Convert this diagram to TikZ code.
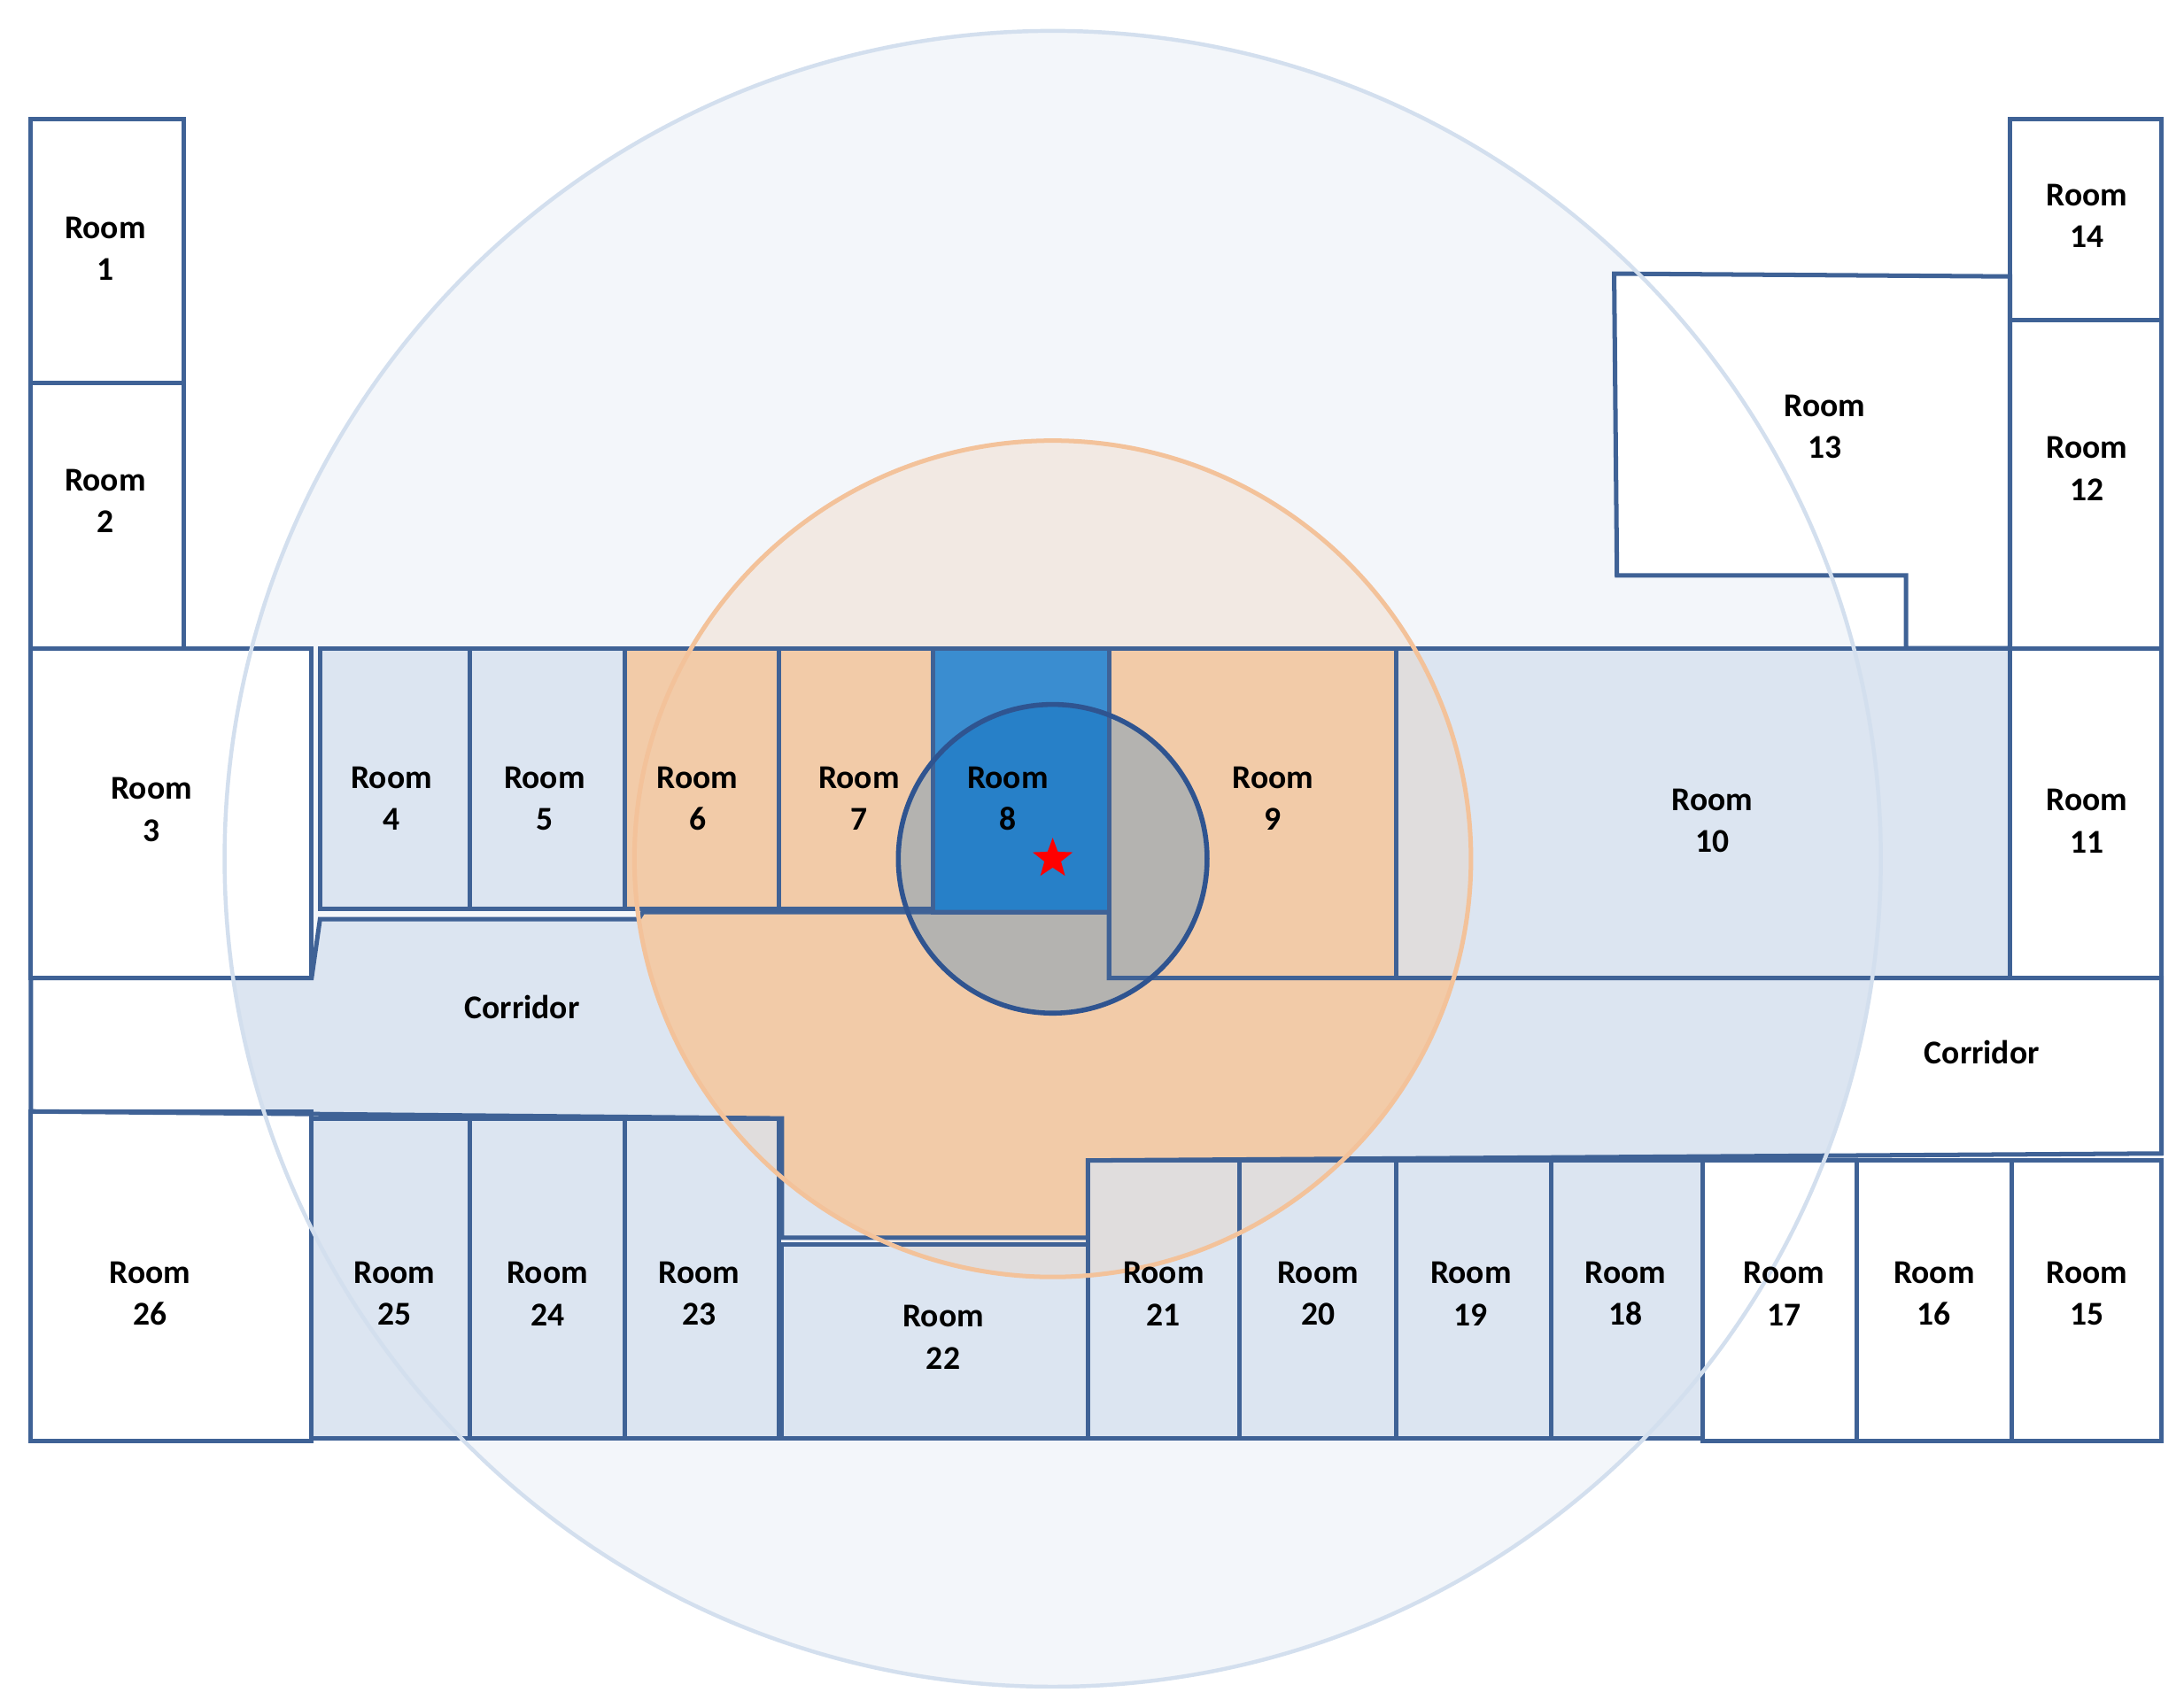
\documentclass[tikz,border=0pt]{standalone}
\usepackage{fontspec}
\setmainfont{Carlito}
\usetikzlibrary{shapes.geometric}
\definecolor{wall}{HTML}{3F6296}
\definecolor{lb}{HTML}{DCE5F1}
\definecolor{bigf}{HTML}{F3F6FA}
\definecolor{bigs}{HTML}{D3DFEE}
\definecolor{orf}{HTML}{F2E9E3}
\definecolor{ors}{HTML}{F3C29A}
\definecolor{orr}{HTML}{F2CBA8}
\definecolor{gr}{HTML}{E0DDDD}
\definecolor{dg}{HTML}{B4B3B0}
\definecolor{b8}{HTML}{3A8DD0}
\definecolor{b8d}{HTML}{2780C8}
\definecolor{cs}{HTML}{2F5490}
\tikzset{room/.style={draw=wall,line width=1.8pt,line join=miter},
 lbl/.style={font=\fontsize{13.5}{15}\selectfont\bfseries,align=center,inner sep=0pt}}
\begin{document}
\begin{tikzpicture}[x=0.02cm,y=-0.02cm]
\useasboundingbox (0,0) rectangle (1556,1211);
\def\corr{(22,697)--(222,697)--(228,655)--(455,655)--(458,650)--(665,650)--(790,650)--(790,697)--(1540,697)--(1540,822)--(775,827)--(775,882)--(557,882)--(557,797)--(22,792)--cycle}
\def\lbrooms{(228,462) rectangle (335,648) (335,462) rectangle (445,648) (995,462) rectangle (1432,697)
 (222,797) rectangle (335,1025) (335,797) rectangle (445,1025) (445,797) rectangle (555,1025)
 (557,887) rectangle (775,1025) (775,827) rectangle (883,1025) (883,827) rectangle (995,1025)
 (995,827) rectangle (1105,1025) (1105,827) rectangle (1213,1025)}
\fill[bigf] (750,612) circle (590);
\fill[orf] (750,612) circle (298);
\fill[white] (22,85) rectangle (131,462) (22,462) rectangle (222,697) (22,792) rectangle (222,1027)
 (1432,85) rectangle (1540,697) (1213,827) rectangle (1540,1027)
 (1150,195)--(1432,197)--(1432,462)--(1358,462)--(1358,410)--(1152,410)--cycle;
\fill[white] \corr;
\begin{scope}\clip (750,612) circle (590); \fill[lb] \corr; \end{scope}
\fill[lb] \lbrooms;
\fill[orr] (445,462) rectangle (665,648) (790,462) rectangle (995,697);
\begin{scope}\clip (750,612) circle (298);
 \fill[gr] \lbrooms; \fill[orr] \corr; \end{scope}
\fill[b8] (665,462) rectangle (790,650);
\begin{scope}\clip (750,612) circle (110);
 \fill[dg] (600,450) rectangle (900,750); \fill[b8d] (665,462) rectangle (790,650); \end{scope}
\draw[room] (22,85) rectangle (131,273) (22,273) rectangle (131,462) (22,462) rectangle (222,697);
\draw[room] (228,462) rectangle (335,648) (335,462) rectangle (445,648) (445,462) rectangle (555,648)
 (555,462) rectangle (665,648) (665,462) rectangle (790,650) (790,462) rectangle (995,697)
 (995,462) rectangle (1432,697) (1432,462) rectangle (1540,697) (1432,228) rectangle (1540,462)
 (1432,85) rectangle (1540,228);
\draw[room] (1150,195)--(1432,197)--(1432,462)--(1358,462)--(1358,410)--(1152,410)--cycle;
\draw[room] \corr;
\draw[room] (22,792) rectangle (222,1027) (222,797) rectangle (335,1025) (335,797) rectangle (445,1025)
 (445,797) rectangle (555,1025) (557,887) rectangle (775,1025) (775,827) rectangle (883,1025)
 (883,827) rectangle (995,1025) (995,827) rectangle (1105,1025) (1105,827) rectangle (1213,1025)
 (1213,827) rectangle (1323,1027) (1323,827) rectangle (1433,1027) (1433,827) rectangle (1540,1027);
\draw[bigs,line width=1.6pt] (750,612) circle (590);
\draw[ors,line width=1.8pt] (750,612) circle (298);
\draw[cs,line width=2pt] (750,612) circle (110);
\node[star,star points=5,star point ratio=2.4,fill=red,minimum size=30*0.02cm,inner sep=0pt] (st) at (750,612) {};
\foreach \n/\x/\y in {1/75/177,2/75/357,3/108/577,4/279/569,5/388/569,6/497/569,7/612/569,8/718/569,9/907/569,
 10/1220/585,11/1487/585,12/1487/334,13/1300/304,14/1487/154,26/107/922,25/281/922,24/390/922,23/498/922,
 22/672/953,21/829/922,20/939/922,19/1048/922,18/1158/922,17/1271/922,16/1378/922,15/1487/922}
 \node[lbl] (r\n) at (\x,\y) {Room\\[2pt]\n};
\node[lbl] (c1) at (372,718) {Corridor};
\node[lbl] (c2) at (1412,750) {Corridor};
\end{tikzpicture}
\end{document}
